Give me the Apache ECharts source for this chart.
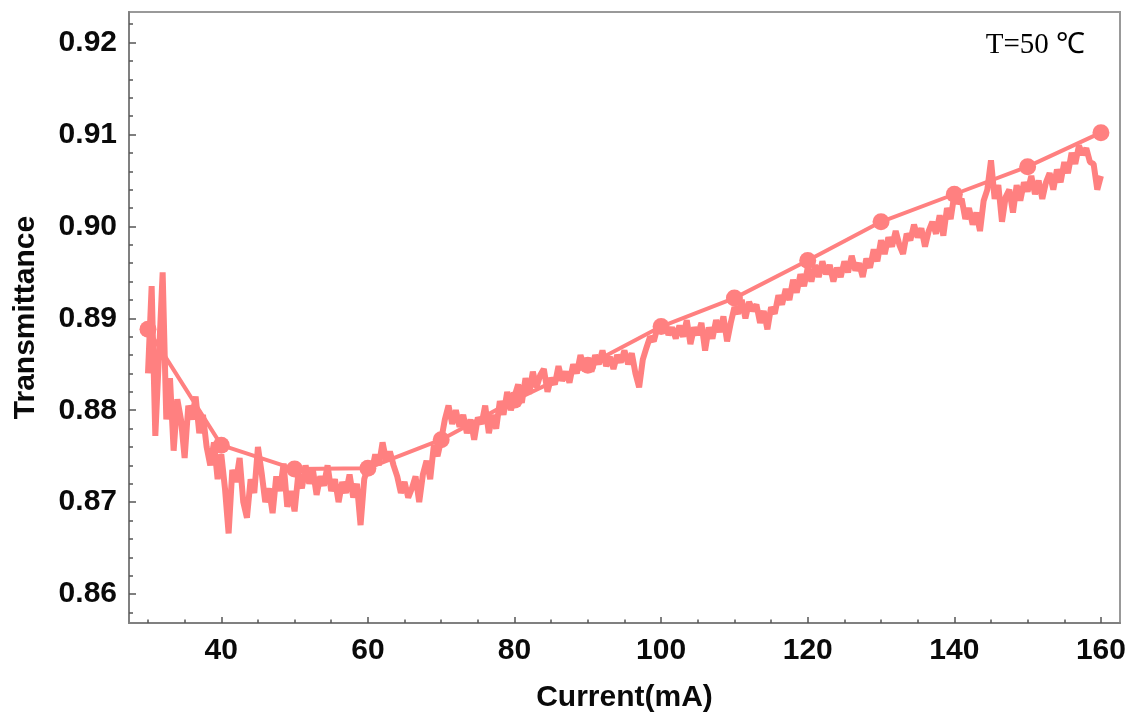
<!DOCTYPE html>
<html>
<head>
<meta charset="utf-8">
<script src="https://cdn.jsdelivr.net/npm/echarts@6/dist/echarts.min.js"></script>
<style>html,body{margin:0;padding:0;background:#fff}#c{width:1134px;height:722px}</style>
</head>
<body>
<div id="c"></div>
<script>
// Measured (noisy) trace: current from 30 to 160 mA, step 0.5
const currentStart = 30, currentStep = 0.5;
const measured = [
0.8840,0.8935,0.8772,0.8860,0.8950,0.8790,0.8835,0.8756,0.8812,0.8790,
0.8748,0.8805,0.8790,0.8815,0.8775,0.8795,0.8760,0.8740,0.8765,0.8725,
0.8752,0.8715,0.8666,0.8735,0.8722,0.8748,0.8700,0.8683,0.8725,0.8710,
0.8760,0.8732,0.8700,0.8715,0.8688,0.8728,0.8712,0.8742,0.8695,0.8712,
0.8690,0.8730,0.8715,0.8740,0.8720,0.8735,0.8708,0.8728,0.8718,0.8740,
0.8712,0.8725,0.8700,0.8722,0.8710,0.8730,0.8705,0.8720,0.8675,0.8725,
0.8738,0.8732,0.8752,0.8740,0.8765,0.8745,0.8755,0.8740,0.8728,0.8710,
0.8722,0.8705,0.8715,0.8728,0.8700,0.8730,0.8745,0.8725,0.8762,0.8750,
0.8768,0.8790,0.8805,0.8785,0.8800,0.8782,0.8795,0.8775,0.8790,0.8768,
0.8792,0.8785,0.8805,0.8775,0.8795,0.8780,0.8810,0.8795,0.8820,0.8800,
0.8815,0.8828,0.8808,0.8835,0.8818,0.8842,0.8825,0.8838,0.8845,0.8820,
0.8835,0.8828,0.8848,0.8832,0.8842,0.8830,0.8850,0.8840,0.8860,0.8848,
0.8855,0.8842,0.8860,0.8850,0.8865,0.8848,0.8858,0.8845,0.8860,0.8852,
0.8865,0.8850,0.8862,0.8840,0.8825,0.8855,0.8868,0.8880,0.8875,0.8890,
0.8885,0.8895,0.8882,0.8890,0.8878,0.8892,0.8880,0.8898,0.8872,0.8890,
0.8882,0.8895,0.8865,0.8890,0.8878,0.8898,0.8885,0.8902,0.8875,0.8895,
0.8912,0.8905,0.8920,0.8900,0.8918,0.8908,0.8915,0.8895,0.8908,0.8888,
0.8912,0.8905,0.8925,0.8915,0.8932,0.8920,0.8942,0.8928,0.8948,0.8935,
0.8955,0.8940,0.8958,0.8945,0.8962,0.8948,0.8958,0.8940,0.8955,0.8945,
0.8962,0.8950,0.8968,0.8952,0.8960,0.8945,0.8965,0.8955,0.8975,0.8962,
0.8985,0.8970,0.8988,0.8978,0.8995,0.8980,0.8970,0.8992,0.8985,0.9002,
0.8988,0.8998,0.8978,0.8995,0.9005,0.8992,0.9012,0.8990,0.9020,0.9008,
0.9035,0.9025,0.9030,0.9008,0.9020,0.9002,0.9015,0.8995,0.9028,0.9040,
0.9072,0.9030,0.9045,0.9005,0.9032,0.9040,0.9015,0.9045,0.9028,0.9048,
0.9038,0.9055,0.9035,0.9050,0.9030,0.9048,0.9058,0.9040,0.9062,0.9048,
0.9070,0.9058,0.9080,0.9068,0.9088,0.9078,0.9085,0.9070,0.9068,0.9040,
0.9055
];
// Fitted points with markers
const fitCurrent = [30,40,50,60,70,80,90,100,110,120,130,140,150,160];
const fitValues = [0.8888,0.8762,0.8736,0.8737,0.8768,0.8811,0.8849,0.8891,0.8922,0.8963,0.9005,0.9035,0.9065,0.9102];
// Axis ticks
const xMajorTicks = [40,60,80,100,120,140,160];
const xMinorTicks = [30,35,45,50,55,65,70,75,85,90,95,105,110,115,125,130,135,145,150,155];
const yMajorTicks = [0.86,0.87,0.88,0.89,0.90,0.91,0.92];
const yMinorTicks = [0.858,0.862,0.864,0.866,0.868,0.872,0.874,0.876,0.878,0.882,0.884,0.886,0.888,0.892,0.894,0.896,0.898,0.902,0.904,0.906,0.908,0.912,0.914,0.916,0.918,0.922];
const xRange = [27.41, 162.6];
const yRange = [0.85685, 0.92333];

const measuredData = measured.map((v, i) => [currentStart + i * currentStep, v]);
const fitData = fitCurrent.map((c, i) => [c, fitValues[i]]);

const lineColor = '#ff8080';
const labelFont = {fontFamily: 'Liberation Sans, Arial, sans-serif', fontWeight: 'bold', fontSize: 30, color: '#0a0a0a'};

const chart = echarts.init(document.getElementById('c'), null, {renderer: 'canvas'});
chart.setOption({
  animation: false,
  backgroundColor: '#fff',
  title: {
    text: 'T=50 \u2103',
    right: 44, top: 26,
    textStyle: {fontFamily: 'Liberation Serif, Times New Roman, serif', fontWeight: 'normal', fontSize: 29, color: '#000'}
  },
  grid: {left: 129, right: 14, top: 12, bottom: 99, show: true, borderColor: '#999', borderWidth: 2, backgroundColor: 'transparent'},
  xAxis: [{
    type: 'value', min: xRange[0], max: xRange[1],
    name: 'Current(mA)', nameLocation: 'middle', nameGap: 60,
    nameTextStyle: Object.assign({}, labelFont, {fontSize: 30}),
    axisLine: {show: true, lineStyle: {color: '#808080', width: 2}},
    axisTick: {show: true, inside: true, length: 6, lineStyle: {color: '#555', width: 1.5}, customValues: xMajorTicks},
    axisLabel: Object.assign({margin: 13, customValues: xMajorTicks, formatter: v => String(v)}, labelFont),
    splitLine: {show: false}
  }, {
    type: 'value', min: xRange[0], max: xRange[1], position: 'bottom',
    axisLine: {show: false},
    axisTick: {show: true, inside: true, length: 3.5, lineStyle: {color: '#555', width: 1.5}, customValues: xMinorTicks},
    axisLabel: {show: false},
    splitLine: {show: false}
  }],
  yAxis: [{
    type: 'value', min: yRange[0], max: yRange[1],
    name: 'Transmittance', nameLocation: 'middle', nameGap: 88, nameRotate: 90,
    nameTextStyle: Object.assign({}, labelFont, {fontSize: 30}),
    axisLine: {show: true, lineStyle: {color: '#808080', width: 2}},
    axisTick: {show: true, inside: true, length: 7, lineStyle: {color: '#555', width: 1.5}, customValues: yMajorTicks},
    axisLabel: Object.assign({margin: 12, customValues: yMajorTicks, formatter: v => v.toFixed(2)}, labelFont),
    splitLine: {show: false}
  }, {
    type: 'value', min: yRange[0], max: yRange[1], position: 'left',
    axisLine: {show: false},
    axisTick: {show: true, inside: true, length: 4, lineStyle: {color: '#555', width: 1.5}, customValues: yMinorTicks},
    axisLabel: {show: false},
    splitLine: {show: false}
  }],
  series: [{
    type: 'line', name: 'measured', data: measuredData, showSymbol: false, symbol: 'none',
    lineStyle: {color: lineColor, width: 6}, itemStyle: {color: lineColor}, z: 2
  }, {
    type: 'line', name: 'fit', data: fitData, symbol: 'circle', symbolSize: 17,
    lineStyle: {color: lineColor, width: 4}, itemStyle: {color: lineColor}, z: 3
  }]
});
</script>
</body>
</html>
